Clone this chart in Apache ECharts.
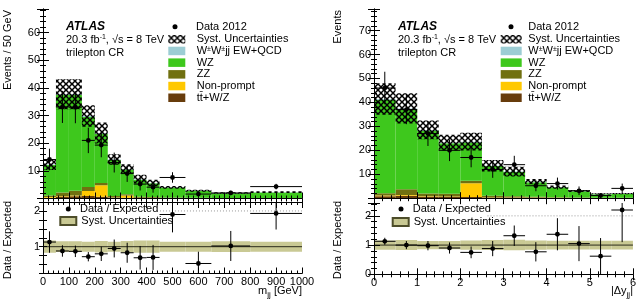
<!DOCTYPE html>
<html>
<head>
<meta charset="utf-8">
<script src="https://cdn.jsdelivr.net/npm/echarts@6/dist/echarts.min.js"></script>
<style>
html, body { margin: 0; padding: 0; background: #fff; }
#chart { width: 639px; height: 302px; }
</style>
</head>
<body>
<div id="chart"></div>
<script>
// ---- m_jj panel (left) ----
var mjjEdges     = [0, 50, 100, 150, 200, 250, 300, 350, 400, 450, 550, 650, 800, 1000];
var mjjTtV       = [0.3, 0.7, 0.8, 0.9, 0.6, 0.3, 0.3, 0.2, 0.2, 0.1, 0.1, 0.05, 0.05];
var mjjNonPrompt = [0.2, 0.2, 0.3, 1.8, 4.2, 0.1, 0.8, 0.1, 0.1, 0.1, 0.05, 0, 0];
var mjjZZ        = [0.6, 1.3, 1.7, 1.5, 0.8, 0.5, 0.4, 0.3, 0.2, 0.2, 0.1, 0.1, 0.1];
var mjjWZ        = [11.0, 35.2, 34.6, 25.3, 17.8, 13.0, 9.0, 6.2, 5.0, 3.5, 2.45, 1.75, 2.05];
var mjjWWjj      = [0.2, 0.3, 0.3, 0.3, 0.3, 0.2, 0.2, 0.2, 0.1, 0.1, 0.1, 0.1, 0.1];
var mjjSyst      = [2.0, 5.4, 5.4, 3.9, 3.8, 1.9, 1.7, 1.6, 1.2, 0.5, 0.4, 0.3, 0.3];
var mjjData      = [14.1, 33.1, 33.0, 21.0, 19.3, 13.0, 9.0, 5.2, 4.1, 7.6, 1.6, 2.0, 4.3];
var mjjDataErr   = [3.9, 5.8, 5.8, 4.6, 4.4, 3.6, 3.0, 2.3, 2.0, 1.9, 0.9, 0.8, 1.0];
var mjjRatio     = [1.13, 0.88, 0.87, 0.72, 0.80, 0.95, 0.83, 0.69, 0.70, 1.90, 0.53, 1.02, 1.93];
var mjjRatioErr  = [0.30, 0.16, 0.16, 0.13, 0.20, 0.25, 0.28, 0.33, 0.35, 0.50, 0.33, 0.42, 0.45];
var mjjBand      = [0.17, 0.15, 0.15, 0.14, 0.16, 0.14, 0.16, 0.17, 0.17, 0.14, 0.14, 0.15, 0.14];

// ---- |Δy_jj| panel (right) ----
var dyEdges     = [0, 0.5, 1, 1.5, 2, 2.5, 3, 3.5, 4, 4.5, 5, 5.5, 6];
var dyTtV       = [0.8, 1.0, 0.6, 0.5, 0.5, 0.3, 0.3, 0.2, 0.1, 0.1, 0.05, 0.05];
var dyNonPrompt = [0.3, 0.3, 0.2, 0.2, 5.7, 0.1, 0.1, 0.1, 0.05, 0, 0, 0];
var dyZZ        = [1.0, 2.4, 1.2, 1.2, 1.1, 0.6, 0.4, 0.3, 0.2, 0.2, 0.1, 0.1];
var dyWZ        = [39.0, 33.5, 26.2, 21.0, 16.0, 12.4, 10.1, 6.1, 4.15, 2.6, 1.55, 1.65];
var dyWWjj      = [0.3, 0.3, 0.3, 0.3, 0.3, 0.2, 0.2, 0.2, 0.1, 0.1, 0.1, 0.1];
var dySyst      = [6.6, 6.3, 3.9, 3.3, 3.7, 2.4, 2.0, 1.1, 0.7, 0.4, 0.3, 0.3];
var dyData      = [46, 37, 27, 20, 17, 12, 14, 5.2, 6.1, 3.1, 1.1, 4.1];
var dyDataErr   = [6.8, 6.1, 5.2, 4.5, 4.1, 3.5, 3.7, 2.3, 2.5, 1.8, 1.0, 2.0];
var dyRatio     = [1.13, 1.00, 0.98, 0.90, 0.75, 0.88, 1.32, 0.77, 1.37, 1.05, 0.62, 2.20];
var dyRatioErr  = [0.12, 0.14, 0.16, 0.19, 0.20, 0.26, 0.35, 0.33, 0.55, 0.60, 0.62, 1.10];
var dyBand      = [0.16, 0.17, 0.14, 0.14, 0.16, 0.17, 0.18, 0.16, 0.15, 0.15, 0.15, 0.15];

var FONT = 'Liberation Sans, Arial, Helvetica, sans-serif';
var C = {
    ttv: '#673c0c', np: '#ffc800', zz: '#707010', wz: '#3ec81d', wwjj: '#9ccdd4', band: '#c9c994'
};
var NAMES = ['tt\u0304+W/Z', 'Non-prompt', 'ZZ', 'WZ', 'W\u00b1W\u00b1jj EW+QCD'];
var SYST = 'Syst. Uncertainties';
var SYST_R = 'Syst. Uncertainties\u00a0';

// crosshatch for the systematic band
var hatch = document.createElement('canvas');
hatch.width = 6; hatch.height = 6;
var hg = hatch.getContext('2d');
hg.strokeStyle = '#000'; hg.lineWidth = 1.5;
hg.beginPath(); hg.moveTo(0, 0); hg.lineTo(6, 6); hg.moveTo(6, 0); hg.lineTo(0, 6); hg.stroke();
var hatchFill = { image: hatch, repeat: 'repeat' };

function rectItem(params, api) {
    var a = api.coord([api.value(0), api.value(3)]);
    var b = api.coord([api.value(1), api.value(2)]);
    return { type: 'rect', shape: { x: a[0], y: a[1], width: b[0] - a[0], height: b[1] - a[1] },
             style: { fill: api.visual('color') } };
}

function boxSeries(name, rows, color, xi, yi, z) {
    return { type: 'custom', name: name, xAxisIndex: xi, yAxisIndex: yi, clip: true, silent: true, z: z || 2,
             itemStyle: { color: color }, encode: { x: [0, 1], y: [2, 3] }, data: rows, renderItem: rectItem };
}

function pointItem(params, api) {
    var xc = (api.value(0) + api.value(1)) / 2, v = api.value(2), e = api.value(3);
    var l = api.coord([api.value(0), v]), r = api.coord([api.value(1), v]);
    var lo = api.coord([xc, v - e]), hi = api.coord([xc, v + e]);
    return { type: 'group', children: [
        { type: 'line', shape: { x1: l[0], y1: l[1], x2: r[0], y2: r[1] }, style: { stroke: '#000', lineWidth: 1 } },
        { type: 'line', shape: { x1: lo[0], y1: lo[1], x2: hi[0], y2: hi[1] }, style: { stroke: '#000', lineWidth: 1 } },
        { type: 'circle', shape: { cx: lo[0], cy: l[1], r: 2.4 }, style: { fill: '#000' } }
    ] };
}

function pointSeries(name, edges, vals, errs, xi, yi) {
    var rows = vals.map(function (v, i) { return [edges[i], edges[i + 1], v, errs[i]]; });
    return { type: 'custom', name: name, xAxisIndex: xi, yAxisIndex: yi, clip: true, silent: true, z: 6,
             itemStyle: { color: '#000' }, encode: { x: [0, 1], y: 2 }, data: rows, renderItem: pointItem };
}

// stacked histogram + hatched uncertainty for one main panel
function mainPanel(edges, layers, syst, data, err, xi, yi) {
    var out = [], base = edges.slice(1).map(function () { return 0; });
    var cols = [C.ttv, C.np, C.zz, C.wz, C.wwjj];
    layers.forEach(function (vals, k) {
        var rows = vals.map(function (v, i) { return [edges[i], edges[i + 1], base[i], base[i] + v]; });
        vals.forEach(function (v, i) { base[i] += v; });
        out.push(boxSeries(NAMES[k], rows, cols[k], xi, yi, 2));
    });
    var band = base.map(function (t, i) { return [edges[i], edges[i + 1], t - syst[i], t + syst[i]]; });
    out.push(boxSeries(SYST, band, hatchFill, xi, yi, 3));
    out.push(pointSeries('Data 2012', edges, data, err, xi, yi));
    return out;
}

function ratioPanel(edges, ratio, err, band, xi, yi, dotFrom) {
    var rows = band.map(function (b, i) { return [edges[i], edges[i + 1], 1 - b, 1 + b]; });
    var s = boxSeries(SYST_R, rows, C.band, xi, yi, 2);
    s.itemStyle.borderColor = '#4d4d2a'; s.itemStyle.borderWidth = 1;
    var xmax = edges[edges.length - 1];
    return [
        s,
        { type: 'line', name: 'one', xAxisIndex: xi, yAxisIndex: yi, silent: true, z: 3, symbol: 'none',
          data: [[0, 1], [xmax, 1]], lineStyle: { color: '#2b2b1a', width: 1 } },
        { type: 'line', name: 'two', xAxisIndex: xi, yAxisIndex: yi, silent: true, z: 3, symbol: 'none',
          data: [[dotFrom, 2], [xmax, 2]], lineStyle: { color: '#999', width: 1, type: [1, 2] } },
        pointSeries('Data / Expected', edges, ratio, err, xi, yi)
    ];
}

function xAx(grid, max, interval, pos, labels) {
    return { type: 'value', gridIndex: grid, position: pos, min: 0, max: max, interval: interval, z: 10,
             axisLine: { show: true, lineStyle: { color: '#000', width: 1 } }, splitLine: { show: false },
             axisTick: { inside: true, length: 6, lineStyle: { color: '#000' } },
             minorTick: { show: true, splitNumber: 5, length: 3, lineStyle: { color: '#000' } },
             axisLabel: { show: labels, color: '#000', fontFamily: FONT, fontSize: 11, margin: 3,
                          formatter: function (v) { return String(v); } } };
}

function yAx(grid, min, max, interval, pos, labels, fmt, minor) {
    return { type: 'value', gridIndex: grid, position: pos, min: min, max: max, interval: interval, z: 10,
             axisLine: { show: true, lineStyle: { color: '#000', width: 1 } }, splitLine: { show: false },
             axisTick: { inside: true, length: minor ? 6 : 4, lineStyle: { color: '#000' } },
             minorTick: { show: !!minor, splitNumber: minor || 5, length: 3, lineStyle: { color: '#000' } },
             axisLabel: { show: labels, color: '#000', fontFamily: FONT, fontSize: 11, margin: 3, formatter: fmt } };
}

var mainFmt = function (v) { return (v > 0 && v % 10 === 0) ? String(v) : ''; };
var ratioFmtL = function (v) { return (v === 1 || v === 2) ? String(v) : ''; };
var ratioFmtR = function (v) { return (v === 0 || v === 1 || v === 2) ? String(v) : ''; };

var legText = {
    color: '#000', fontFamily: FONT, fontSize: 11, lineHeight: 11.7,
    rich: {
        n: { color: '#000', fontFamily: FONT, fontSize: 11, lineHeight: 11.7 },
        s: { color: '#000', fontFamily: FONT, fontSize: 7, lineHeight: 7, padding: [0, 0, 4, 0] }
    }
};
function legend(left, top, names, opts) {
    var ts = Object.assign({}, legText, { padding: [0, 0, 0, opts.pad] });
    return Object.assign({
        left: left, top: top, orient: 'vertical', padding: 0, itemGap: 0, selectedMode: false,
        data: names, textStyle: ts,
        formatter: function (n) { return n.indexOf('\u00b1') >= 0 ? '{n|W}{s|\u00b1}{n|W}{s|\u00b1}{n|jj EW+QCD}' : n; }
    }, opts.o);
}
var boxNames = [SYST, NAMES[4], NAMES[3], NAMES[2], NAMES[1], NAMES[0]];

function txt(x, y, text, extra) {
    return { type: 'text', x: x, y: y, z: 20, silent: true,
             style: Object.assign({ text: text, fill: '#000', fontFamily: FONT, fontSize: 11,
                                    textAlign: 'left', textVerticalAlign: 'middle', align: 'left', verticalAlign: 'middle' }, extra || {}) };
}
var sub = { m: { fontFamily: FONT, fontSize: 11, lineHeight: 12, fill: '#000' },
            b: { fontFamily: FONT, fontSize: 8, lineHeight: 8, padding: [7, 0, 0, 0], fill: '#000' },
            p: { fontFamily: FONT, fontSize: 7, lineHeight: 7, padding: [0, 0, 5, 0], fill: '#000' } };
function vtxt(x, y, text, align) {
    var t = txt(x, y, text, { textAlign: align, align: align });
    t.rotation = Math.PI / 2;
    return t;
}

var series = []
    .concat(mainPanel(mjjEdges, [mjjTtV, mjjNonPrompt, mjjZZ, mjjWZ, mjjWWjj], mjjSyst, mjjData, mjjDataErr, 0, 0))
    .concat(ratioPanel(mjjEdges, mjjRatio, mjjRatioErr, mjjBand, 2, 2, 440))
    .concat(mainPanel(dyEdges, [dyTtV, dyNonPrompt, dyZZ, dyWZ, dyWWjj], dySyst, dyData, dyDataErr, 4, 4))
    .concat(ratioPanel(dyEdges, dyRatio, dyRatioErr, dyBand, 6, 6, 2.63));

var chart = echarts.init(document.getElementById('chart'));
chart.setOption({
    animation: false,
    backgroundColor: '#fff',
    grid: [
        { left: 43, top: 9, width: 259, height: 189.5 },
        { left: 43, top: 202, width: 259, height: 71.5 },
        { left: 374, top: 9, width: 259, height: 189.2 },
        { left: 374, top: 203, width: 259, height: 71.3 }
    ],
    xAxis: [
        xAx(0, 1000, 100, 'bottom', false), xAx(0, 1000, 100, 'top', false),
        xAx(1, 1000, 100, 'bottom', true), xAx(1, 1000, 100, 'top', false),
        xAx(2, 6, 1, 'bottom', false), xAx(2, 6, 1, 'top', false),
        xAx(3, 6, 1, 'bottom', true), xAx(3, 6, 1, 'top', false)
    ],
    yAxis: [
        yAx(0, 0, 68.5, 10, 'left', true, mainFmt, 5), yAx(0, 0, 68.5, 10, 'right', false, mainFmt, 5),
        yAx(1, 0.25, 2.25, 0.25, 'left', true, ratioFmtL, 0), yAx(1, 0.25, 2.25, 0.25, 'right', false, ratioFmtL, 0),
        yAx(2, 0, 79, 10, 'left', true, mainFmt, 5), yAx(2, 0, 79, 10, 'right', false, mainFmt, 5),
        yAx(3, 0, 2.44, 1, 'left', true, ratioFmtR, 5), yAx(3, 0, 2.44, 1, 'right', false, ratioFmtR, 5)
    ],
    legend: [
        legend(172.5, 20.8, ['Data 2012'], { pad: 13.5, o: { icon: 'circle', itemWidth: 5, itemHeight: 5 } }),
        legend(168.3, 33.4, boxNames, { pad: 6.4, o: { icon: 'rect', itemWidth: 17, itemHeight: 8.5 } }),
        legend(508.5, 20.8, ['Data 2012'], { pad: 9.8, o: { icon: 'circle', itemWidth: 5, itemHeight: 5 } }),
        legend(500.7, 33.4, boxNames, { pad: 1.6, o: { icon: 'rect', itemWidth: 21, itemHeight: 8.5 } }),
        legend(65.8, 203.2, ['Data / Expected'], { pad: 4.2, o: { icon: 'circle', itemWidth: 5, itemHeight: 5 } }),
        legend(59.3, 215.2, [SYST_R], { pad: 0, o: { icon: 'rect', itemWidth: 16, itemHeight: 8 } }),
        legend(398.5, 203.2, ['Data / Expected'], { pad: 4.2, o: { icon: 'circle', itemWidth: 5, itemHeight: 5 } }),
        legend(391.7, 216.2, [SYST_R], { pad: 0, o: { icon: 'rect', itemWidth: 16, itemHeight: 8 } })
    ],
    graphic: [
        txt(66, 27, 'ATLAS', { fontWeight: 'bold', fontStyle: 'italic', fontSize: 12 }),
        txt(66, 39.5, '{m|20.3 fb}{p|-1}{m|, \u221As = 8 TeV}', { rich: sub }),
        txt(66, 53, 'trilepton CR'),
        txt(398, 27, 'ATLAS', { fontWeight: 'bold', fontStyle: 'italic', fontSize: 12 }),
        txt(398, 39.5, '{m|20.3 fb}{p|-1}{m|, \u221As = 8 TeV}', { rich: sub }),
        txt(398, 53, 'trilepton CR'),
        vtxt(8, 10, 'Events / 50 GeV', 'right'),
        vtxt(338, 10, 'Events', 'right'),
        vtxt(8, 240, 'Data / Expected', 'center'),
        vtxt(338, 240, 'Data / Expected', 'center'),
        txt(302, 291, '{m|m}{b|jj}{m| [GeV]}', { rich: sub, textAlign: 'right', align: 'right' }),
        txt(633, 291, '{m||\u0394y}{b|jj}{m||}', { rich: sub, textAlign: 'right', align: 'right' })
    ],
    series: series
});
</script>
</body>
</html>
